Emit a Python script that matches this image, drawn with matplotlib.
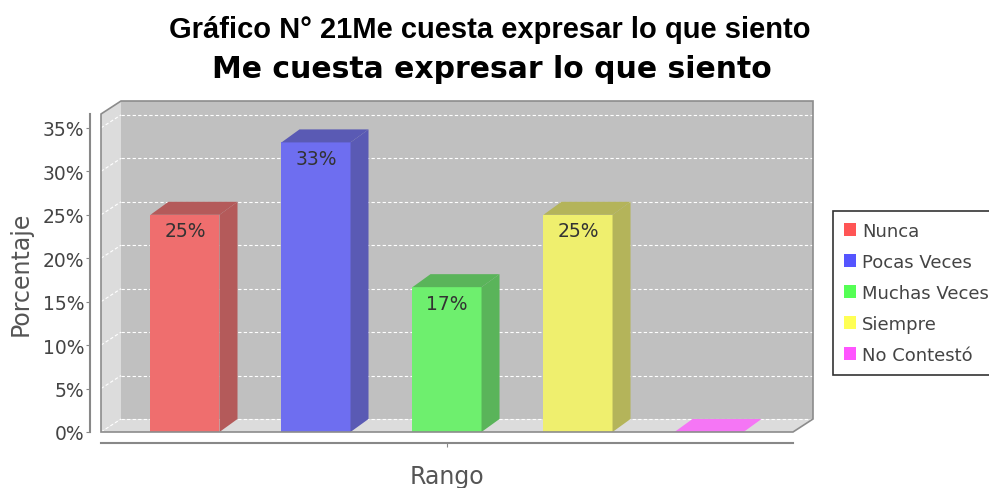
import matplotlib
matplotlib.use('Agg')
import matplotlib.pyplot as plt
from matplotlib.patches import Polygon, Rectangle, Patch
from matplotlib.ticker import FuncFormatter

categorias = ['Nunca', 'Pocas Veces', 'Muchas Veces', 'Siempre', 'No Contestó']
porcentajes = [25, 33.33, 16.67, 25, 0]
etiquetas = ['25%', '33%', '17%', '25%', '']
y_ticks = [0, 5, 10, 15, 20, 25, 30, 35]

col_frente = ['#ef6e6e', '#6e6ef0', '#6eef6e', '#efef6e', '#f576f5']
col_lado = ['#b45a5a', '#5a5ab4', '#5ab45a', '#b4b45a', '#b45ab4']
col_leyenda = ['#ff5555', '#5555ff', '#55ff55', '#ffff55', '#ff55ff']

W, H = 989, 489
fig = plt.figure(figsize=(W / 100, H / 100), dpi=100)

# front plane of the plot, in pixels: x 101..793, y 433 (0%) .. 115
ax = fig.add_axes([101 / W, (H - 433) / H, 692 / W, 318 / H])
x0, x1 = -0.641, 4.641
ytop = 36.6
ax.set_xlim(x0, x1)
ax.set_ylim(0, ytop)
ax.set_facecolor('none')

px_x = 692 / (x1 - x0)
px_y = 318 / ytop
dx, dy = 20 / px_x, 13 / px_y      # depth of walls
bdx, bdy = 18 / px_x, 13 / px_y    # depth of bars
w = 0.527

# walls
ax.add_patch(Polygon([(x0 + dx, dy), (x1 + dx, dy), (x1 + dx, ytop + dy), (x0 + dx, ytop + dy)],
                     closed=True, fc='#c0c0c0', ec='none', zorder=1, clip_on=False))
ax.add_patch(Polygon([(x0, 0), (x0 + dx, dy), (x0 + dx, ytop + dy), (x0, ytop)],
                     closed=True, fc='#dcdcdc', ec='none', zorder=1, clip_on=False))
ax.add_patch(Polygon([(x0, 0), (x1, 0), (x1 + dx, dy), (x0 + dx, dy)],
                     closed=True, fc='#dcdcdc', ec='none', zorder=1, clip_on=False))

# gridlines
for t in y_ticks:
    ax.plot([x0 + dx, x1 + dx], [t + dy, t + dy], color='white', lw=0.8,
            dashes=(3, 2), zorder=2, clip_on=False)
    ax.plot([x0, x0 + dx], [t, t + dy], color='white', lw=0.8,
            dashes=(3, 2), zorder=2, clip_on=False)

# outline
ax.add_patch(Polygon([(x0, 0), (x1, 0), (x1 + dx, dy), (x1 + dx, ytop + dy),
                      (x0 + dx, ytop + dy), (x0, ytop)],
                     closed=True, fc='none', ec='#8c8c8c', lw=1.2, zorder=6, clip_on=False))

# bars
for i, v in enumerate(porcentajes):
    l, r = i - w / 2, i + w / 2
    if v > 0:
        ax.add_patch(Rectangle((l, 0), w, v, fc=col_frente[i], ec='none', zorder=3, clip_on=False))
        ax.add_patch(Polygon([(l, v), (r, v), (r + bdx, v + bdy), (l + bdx, v + bdy)],
                             closed=True, fc=col_lado[i], ec='none', zorder=3, clip_on=False))
        ax.add_patch(Polygon([(r, 0), (r + bdx, bdy), (r + bdx, v + bdy), (r, v)],
                             closed=True, fc=col_lado[i], ec='none', zorder=3, clip_on=False))
        ax.annotate(etiquetas[i], (i, v), xytext=(0, -11.5), textcoords='offset points',
                    ha='center', va='center', fontsize=13.5, color='#333333', zorder=5)
    else:
        ax.add_patch(Polygon([(l, 0), (r, 0), (r + bdx, bdy), (l + bdx, bdy)],
                             closed=True, fc=col_frente[i], ec='none', zorder=3, clip_on=False))

# axes
for s in ['top', 'right']:
    ax.spines[s].set_visible(False)
for s in ['left', 'bottom']:
    ax.spines[s].set_position(('outward', 8))
    ax.spines[s].set_color('#888888')
    ax.spines[s].set_linewidth(1.5)
ax.set_yticks(y_ticks)
ax.yaxis.set_major_formatter(FuncFormatter(lambda v, p: '%d%%' % v))
ax.set_xticks([(x0 + x1) / 2])
ax.set_xticklabels([''])
ax.tick_params(axis='both', length=3, color='#888888', labelsize=13.5, labelcolor='#444444', pad=1)
ax.set_ylabel('Porcentaje', fontsize=17, color='#555555', labelpad=7)
ax.set_xlabel('Rango', fontsize=17, color='#555555', labelpad=11)

# titles
fig.text(490 / W, 1 - 30 / H, 'Gráfico N° 21Me cuesta expresar lo que siento',
         ha='center', va='center', fontsize=21, fontweight='bold', family='Liberation Sans')
fig.text(492 / W, 1 - 69 / H, 'Me cuesta expresar lo que siento',
         ha='center', va='center', fontsize=21.5, fontweight='bold', family='DejaVu Sans')

# legend
handles = [Patch(fc=c, ec='none') for c in col_leyenda]
leg = fig.legend(handles, categorias, loc='upper left', bbox_to_anchor=(833 / W, 1 - 212 / H),
                 borderaxespad=0, fontsize=13, frameon=True, fancybox=False,
                 edgecolor='black', handlelength=0.7, handleheight=0.7, handletextpad=0.3,
                 labelspacing=0.72, borderpad=0.6, labelcolor='#444444')
leg.get_frame().set_linewidth(1.2)

fig.savefig('out.png', dpi=100)
